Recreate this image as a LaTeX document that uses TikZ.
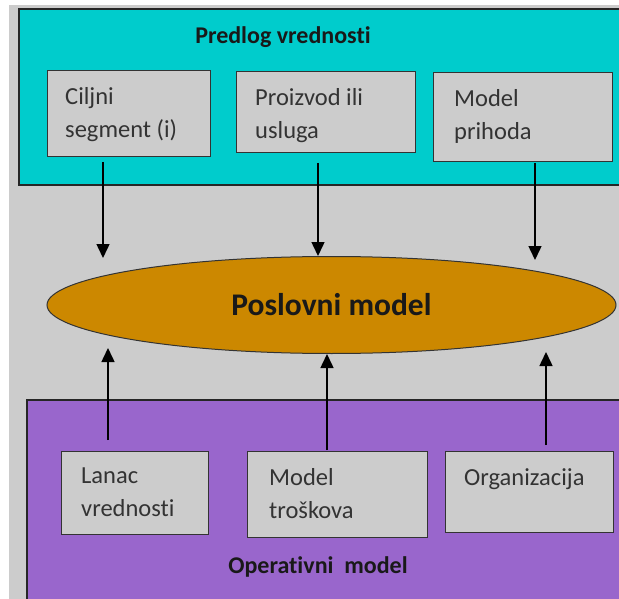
\documentclass[tikz,border=0pt]{standalone}
\usepackage{fontspec}
\setmainfont{Carlito}[Ligatures={TeX,NoCommon}]
\usepackage{tikz}
\usetikzlibrary{shapes.geometric,arrows.meta}

\definecolor{pozadina}{HTML}{CCCCCC}
\definecolor{tirkiz}{HTML}{00CCCC}
\definecolor{ljubicasta}{HTML}{9966CC}
\definecolor{oker}{HTML}{CC8800}
\definecolor{okvir}{HTML}{333333}

\begin{document}
\begin{tikzpicture}[x=1pt,y=-1pt,
  kutija/.style={draw=okvir,line width=1.3pt,fill=pozadina,anchor=north west,inner sep=0pt},
  tekst/.style={anchor=north west,align=left,text=okvir,inner sep=0pt,
    font=\fontsize{24.5}{33}\selectfont},
  naslov/.style={font=\fontsize{24}{26}\selectfont\bfseries,text=black!90},
  strelica/.style={-{Triangle[width=13pt,length=14pt]},line width=1.5pt}]
\useasboundingbox (0,0) rectangle (619,599);
\clip (0,0) rectangle (619,599);
\fill [white] (0,0) rectangle (619,599);
\fill [pozadina] (9,5) rectangle (630,610);

% gornji deo
\draw [draw=black!85,line width=1.3pt,fill=tirkiz] (19,9) rectangle (630,185);
\node [naslov] (predlog) at (283,37) {Predlog vrednosti};
\node [kutija,minimum width=163pt,minimum height=86pt] (ciljni) at (47,70) {};
\node [tekst] at ([shift={(18,17)}]ciljni.north west) {Ciljni\\segment (i)};
\node [kutija,minimum width=179pt,minimum height=81pt] (proizvod) at (236,71) {};
\node [tekst] at ([shift={(19,17)}]proizvod.north west) {Proizvod ili\\usluga};
\node [kutija,minimum width=179pt,minimum height=89pt] (prihod) at (433,72) {};
\node [tekst] at ([shift={(21,17)}]prihod.north west) {Model\\prihoda};

% donji deo
\draw [draw=black!85,line width=1.3pt,fill=ljubicasta] (27,400) rectangle (630,610);
\node [kutija,minimum width=147pt,minimum height=83pt] (lanac) at (61,451) {};
\node [tekst] at ([shift={(20,17)}]lanac.north west) {Lanac\\vrednosti};
\node [kutija,minimum width=180pt,minimum height=86pt] (troskovi) at (247,451) {};
\node [tekst] at ([shift={(22,17)}]troskovi.north west) {Model\\troškova};
\node [kutija,minimum width=168pt,minimum height=81pt] (org) at (445,451) {};
\node [tekst] at ([shift={(19,17)}]org.north west) {Organizacija};
\node [naslov] (operativni) at (318,567) {Operativni\ \ model};

% sredina
\node [ellipse,draw=black!80,line width=1pt,fill=oker,minimum width=569pt,
  minimum height=97pt,inner sep=0pt,font=\fontsize{31.5}{34}\selectfont\bfseries,
  text=black!90] (poslovni) at (331.5,305) {Poslovni model};

% strelice
\coordinate (g1) at (103,162);
\coordinate (g2) at (318,163);
\coordinate (g3) at (535,163);
\coordinate (d1) at (108,440);
\coordinate (d2) at (327,450);
\coordinate (d3) at (546,445);
\draw [strelica] (g1) -- (103,258);
\draw [strelica] (g2) -- (poslovni.north -| g2);
\draw [strelica] (g3) -- (535,260);
\draw [strelica] (d1) -- (108,348);
\draw [strelica] (d2) -- (poslovni.south -| d2);
\draw [strelica] (d3) -- (546,352);
\end{tikzpicture}
\end{document}
